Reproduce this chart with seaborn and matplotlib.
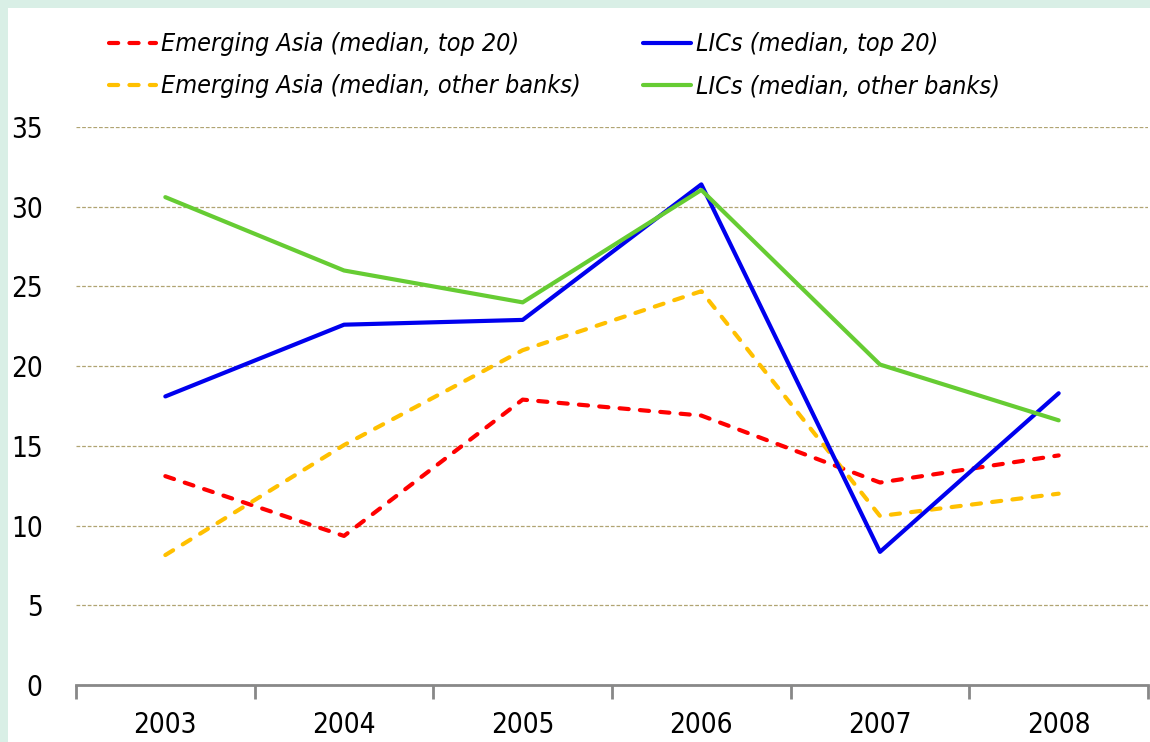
import numpy as np
import pandas as pd
import matplotlib.pyplot as plt
import seaborn as sns
from matplotlib.patches import Rectangle

years = ['2003', '2004', '2005', '2006', '2007', '2008']
asia_top20 = [13.1, 9.35, 17.9, 16.9, 12.7, 14.4]
asia_other = [8.15, 15.05, 21.0, 24.7, 10.6, 12.0]
lics_top20 = [18.1, 22.6, 22.9, 31.4, 8.35, 18.3]
lics_other = [30.6, 26.0, 24.0, 31.05, 20.1, 16.6]

# legend fills column by column
names = ['Emerging Asia (median, top 20)', 'Emerging Asia (median, other banks)',
         'LICs (median, top 20)', 'LICs (median, other banks)']
series = [asia_top20, asia_other, lics_top20, lics_other]
colors = ['#ff0000', '#ffc000', '#0000ee', '#66cc33']

rows = []
for name, vals in zip(names, series):
    for i, v in enumerate(vals):
        rows.append({'x': i, 'value': v, 'series': name})
df = pd.DataFrame(rows)

sns.set_style('white')
plt.rcParams['font.family'] = ['DejaVu Sans']
plt.rcParams['font.stretch'] = 'condensed'

fig = plt.figure(figsize=(11.5, 7.42), dpi=100)
fig.patch.set_facecolor('#d9efe6')
fig.patches.append(Rectangle((8 / 1150, 0), 1, 1 - 8 / 742, transform=fig.transFigure,
                             facecolor='white', edgecolor='none', zorder=-5))

ax = fig.add_axes([76 / 1150, 1 - 685 / 742, (1148 - 76) / 1150, (685 - 127) / 742])
ax.set_zorder(2)
ax.set_facecolor('none')

sns.lineplot(data=df, x='x', y='value', hue='series', style='series',
             palette=dict(zip(names, colors)),
             dashes={names[0]: (2.2, 2.7), names[1]: (2.2, 2.7), names[2]: '', names[3]: ''},
             linewidth=3, ax=ax, legend=False)
for line in ax.get_lines():
    line.set_dash_capstyle('round')
    line.set_solid_capstyle('round')
    line.set_clip_on(False)

ax.set_xlim(-0.5, 5.5)
ax.set_ylim(0, 35)
ax.set_yticks(np.arange(0, 36, 5))
ax.set_yticklabels([str(v) for v in range(0, 36, 5)], fontsize=20, color='black')
ax.tick_params(axis='y', length=0, pad=24)
ax.yaxis.grid(True, color='#b0a472', linestyle=(0, (3, 1.5)), linewidth=0.9)
ax.set_axisbelow(True)

ax.set_xticks(np.arange(-0.5, 6, 1))
ax.set_xticklabels([])
ax.set_xticks(np.arange(6), minor=True)
ax.set_xticklabels(years, minor=True, fontsize=20, color='black')
ax.tick_params(axis='x', which='major', bottom=True, length=10, width=2,
               color='#888888', direction='out')
ax.tick_params(axis='x', which='minor', bottom=True, length=0, pad=19)
ax.set_xlabel('')
ax.set_ylabel('')

for s in ['top', 'right', 'left']:
    ax.spines[s].set_visible(False)
ax.spines['bottom'].set_color('#888888')
ax.spines['bottom'].set_linewidth(2)

handles = ax.get_lines()[:4]
leg = fig.legend(handles, names, loc='upper left', ncol=2, frameon=False,
                 bbox_to_anchor=(86 / 1150, 1 - 10 / 742),
                 prop={'size': 18, 'style': 'italic', 'stretch': 'condensed'},
                 handlelength=1.9, handletextpad=0.2, columnspacing=2.5,
                 labelspacing=0.72)
for t in leg.get_texts():
    t.set_color('black')

fig.savefig('out.png', dpi=100, facecolor=fig.get_facecolor())
